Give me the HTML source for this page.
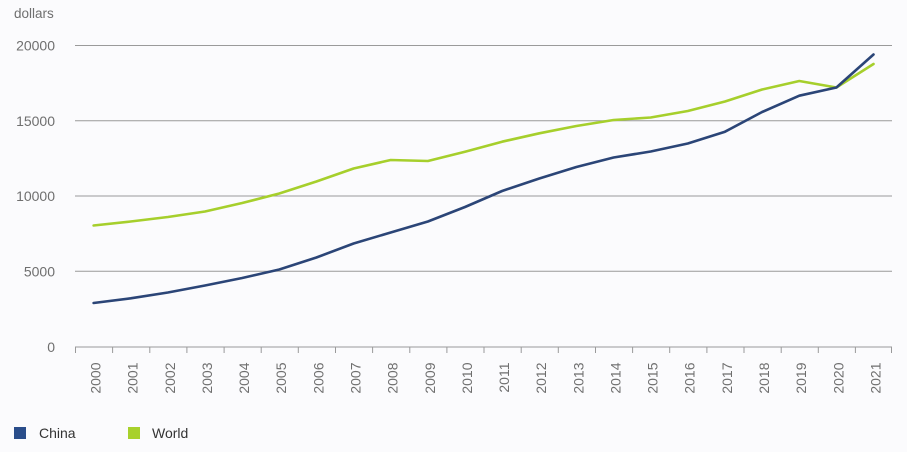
<!DOCTYPE html>
<html>
<head>
<meta charset="utf-8">
<style>
  html, body { margin: 0; padding: 0; background: #fbfbfd; }
  svg { display: block; }
  text { font-family: "Liberation Sans", Arial, sans-serif; fill: #6f6f6f; }
</style>
</head>
<body>
<svg width="907" height="452" viewBox="0 0 907 452" xmlns="http://www.w3.org/2000/svg">
  <rect x="0" y="0" width="907" height="452" fill="#fbfbfd"/>
  <text x="14" y="18" font-size="13.5">dollars</text>

  <!-- gridlines -->
  <g stroke="#9a9a9a" stroke-width="1">
    <line x1="75" y1="45.5" x2="892" y2="45.5"/>
    <line x1="75" y1="120.8" x2="892" y2="120.8"/>
    <line x1="75" y1="196" x2="892" y2="196"/>
    <line x1="75" y1="271.3" x2="892" y2="271.3"/>
    <line x1="75" y1="347" x2="892" y2="347"/>
  </g>
  <!-- y labels -->
  <g font-size="14" text-anchor="end">
    <text x="55" y="50.5">20000</text>
    <text x="55" y="125.8">15000</text>
    <text x="55" y="201">10000</text>
    <text x="55" y="276.3">5000</text>
    <text x="55" y="352">0</text>
  </g>
  <!-- ticks -->
  <g stroke="#9a9a9a" stroke-width="1">
    <line x1="75.5" y1="347" x2="75.5" y2="353"/>
    <line x1="112.6" y1="347" x2="112.6" y2="353"/>
    <line x1="149.8" y1="347" x2="149.8" y2="353"/>
    <line x1="186.9" y1="347" x2="186.9" y2="353"/>
    <line x1="224.1" y1="347" x2="224.1" y2="353"/>
    <line x1="261.2" y1="347" x2="261.2" y2="353"/>
    <line x1="298.3" y1="347" x2="298.3" y2="353"/>
    <line x1="335.5" y1="347" x2="335.5" y2="353"/>
    <line x1="372.6" y1="347" x2="372.6" y2="353"/>
    <line x1="409.8" y1="347" x2="409.8" y2="353"/>
    <line x1="446.9" y1="347" x2="446.9" y2="353"/>
    <line x1="484.0" y1="347" x2="484.0" y2="353"/>
    <line x1="521.2" y1="347" x2="521.2" y2="353"/>
    <line x1="558.3" y1="347" x2="558.3" y2="353"/>
    <line x1="595.5" y1="347" x2="595.5" y2="353"/>
    <line x1="632.6" y1="347" x2="632.6" y2="353"/>
    <line x1="669.7" y1="347" x2="669.7" y2="353"/>
    <line x1="706.9" y1="347" x2="706.9" y2="353"/>
    <line x1="744.0" y1="347" x2="744.0" y2="353"/>
    <line x1="781.2" y1="347" x2="781.2" y2="353"/>
    <line x1="818.3" y1="347" x2="818.3" y2="353"/>
    <line x1="855.4" y1="347" x2="855.4" y2="353"/>
    <line x1="891.5" y1="347" x2="891.5" y2="353"/>
  </g>
  <!-- x labels -->
  <g font-size="14" text-anchor="end">
    <text transform="translate(100.5,362.5) rotate(-90)">2000</text>
    <text transform="translate(137.6,362.5) rotate(-90)">2001</text>
    <text transform="translate(174.8,362.5) rotate(-90)">2002</text>
    <text transform="translate(211.9,362.5) rotate(-90)">2003</text>
    <text transform="translate(249.1,362.5) rotate(-90)">2004</text>
    <text transform="translate(286.2,362.5) rotate(-90)">2005</text>
    <text transform="translate(323.3,362.5) rotate(-90)">2006</text>
    <text transform="translate(360.5,362.5) rotate(-90)">2007</text>
    <text transform="translate(397.6,362.5) rotate(-90)">2008</text>
    <text transform="translate(434.8,362.5) rotate(-90)">2009</text>
    <text transform="translate(471.9,362.5) rotate(-90)">2010</text>
    <text transform="translate(509.0,362.5) rotate(-90)">2011</text>
    <text transform="translate(546.2,362.5) rotate(-90)">2012</text>
    <text transform="translate(583.3,362.5) rotate(-90)">2013</text>
    <text transform="translate(620.5,362.5) rotate(-90)">2014</text>
    <text transform="translate(657.6,362.5) rotate(-90)">2015</text>
    <text transform="translate(694.7,362.5) rotate(-90)">2016</text>
    <text transform="translate(731.9,362.5) rotate(-90)">2017</text>
    <text transform="translate(769.0,362.5) rotate(-90)">2018</text>
    <text transform="translate(806.2,362.5) rotate(-90)">2019</text>
    <text transform="translate(843.3,362.5) rotate(-90)">2020</text>
    <text transform="translate(880.4,362.5) rotate(-90)">2021</text>
  </g>

  <!-- World series -->
  <polyline fill="none" stroke="#a6cf2c" stroke-width="2.6" stroke-linejoin="round" stroke-linecap="round"
    points="93.6,225.5 130.7,221.5 167.9,217 205.0,211.5 242.2,203 279.3,193.5 316.4,181.5 353.6,168.5 390.7,160 427.9,161 465.0,151.7 502.1,141.7 539.3,133.3 576.4,126 613.6,120 650.7,117.5 687.8,111 725.0,101.5 762.1,89.5 799.3,81 836.4,87.5 873.5,64"/>
  <!-- China series -->
  <polyline fill="none" stroke="#2b4577" stroke-width="2.6" stroke-linejoin="round" stroke-linecap="round"
    points="93.6,303 130.7,298.3 167.9,292.5 205.0,285.5 242.2,278 279.3,269.5 316.4,257.5 353.6,243.5 390.7,232.5 427.9,221.5 465.0,207 502.1,191 539.3,178.5 576.4,167 613.6,157.5 650.7,151.5 687.8,143.5 725.0,131.7 762.1,112 799.3,95.7 836.4,87.5 873.5,54.5"/>

  <!-- legend -->
  <rect x="14" y="427" width="12" height="12" fill="#2a4d8a"/>
  <text x="39" y="438" font-size="14" style="fill:#333">China</text>
  <rect x="128" y="427" width="12" height="12" fill="#a8d12c"/>
  <text x="152" y="438" font-size="14" style="fill:#333">World</text>
</svg>
</body>
</html>
